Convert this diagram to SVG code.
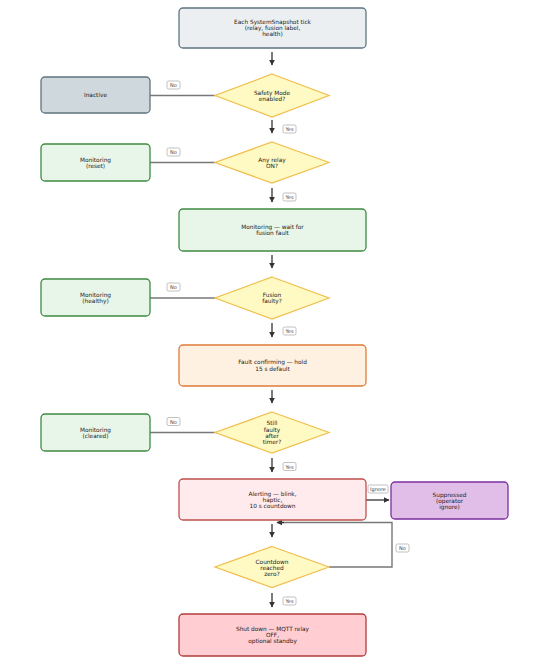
<svg xmlns="http://www.w3.org/2000/svg" width="545" height="664" viewBox="0 0 545 664">
<defs>
<marker id="ah" viewBox="0 0 10 10" refX="9" refY="5" markerWidth="6" markerHeight="6" orient="auto" markerUnits="userSpaceOnUse"><path d="M0,0 L10,5 L0,10 z" fill="#333"/></marker>
<style>
text{font-family:"DejaVu Sans",sans-serif;font-size:5.8px;fill:#222;text-anchor:middle;dominant-baseline:central}
.lbl text{font-size:5px;fill:#444}
.lb{fill:#fff;stroke:#999;stroke-width:0.6}
.v{stroke:#333;stroke-width:1.3;fill:none;marker-end:url(#ah)}
.s{stroke:#777;stroke-width:1.4;fill:none}
.d{fill:#fff9c4;stroke:#f0bf4c;stroke-width:1.2}
.g{fill:#e8f5e9;stroke:#3d8a41;stroke-width:1.3}
</style>
</defs>
<rect width="545" height="664" fill="#fff"/>
<g id="connectors">
<line class="v" x1="272" y1="52" x2="272" y2="65"/>
<line class="v" x1="272" y1="120" x2="272" y2="133"/>
<line class="v" x1="272" y1="188" x2="272" y2="202"/>
<line class="v" x1="272" y1="255" x2="272" y2="268"/>
<line class="v" x1="272" y1="323" x2="272" y2="337"/>
<line class="v" x1="272" y1="390" x2="272" y2="403"/>
<line class="v" x1="272" y1="458" x2="272" y2="472"/>
<line class="v" x1="272" y1="524" x2="272" y2="537"/>
<line class="v" x1="272" y1="593" x2="272" y2="607"/>
<line class="s" x1="150" y1="95.5" x2="215" y2="95.5"/>
<line class="s" x1="150" y1="162.5" x2="215" y2="162.5"/>
<line class="s" x1="150" y1="298" x2="215" y2="298"/>
<line class="s" x1="150" y1="432.5" x2="215" y2="432.5"/>
<line class="v" x1="366" y1="500" x2="389" y2="500"/>
<polyline class="s" points="329,567 392,567 392,522.5 282,522.5"/>
<line class="v" x1="284" y1="522.5" x2="277" y2="522.5"/>
<g class="lbl">
<rect class="lb" x="167" y="81" width="13" height="8" rx="1.5"/><text x="173.5" y="85">No</text>
<rect class="lb" x="167" y="148" width="13" height="8" rx="1.5"/><text x="173.5" y="152">No</text>
<rect class="lb" x="167" y="283" width="13" height="8" rx="1.5"/><text x="173.5" y="287">No</text>
<rect class="lb" x="167" y="417.5" width="13" height="8" rx="1.5"/><text x="173.5" y="421.5">No</text>
<rect class="lb" x="396" y="544" width="13" height="8" rx="1.5"/><text x="402.5" y="548">No</text>
<rect class="lb" x="283" y="125" width="13" height="8" rx="1.5"/><text x="289.5" y="129">Yes</text>
<rect class="lb" x="283" y="193" width="13" height="8" rx="1.5"/><text x="289.5" y="197">Yes</text>
<rect class="lb" x="283" y="327" width="13" height="8" rx="1.5"/><text x="289.5" y="331">Yes</text>
<rect class="lb" x="283" y="462.5" width="13" height="8" rx="1.5"/><text x="289.5" y="466.5">Yes</text>
<rect class="lb" x="283" y="597" width="13" height="8" rx="1.5"/><text x="289.5" y="601">Yes</text>
<rect class="lb" x="368" y="485" width="20" height="8" rx="1.5"/><text x="378" y="489">Ignore</text>
</g>
</g>
<g id="tick"><rect x="179" y="8" width="187" height="40" rx="4" fill="#eceff1" stroke="#5f7480" stroke-width="1.3"/><text x="272.5" y="21.7">Each SystemSnapshot tick</text><text x="272.5" y="27.7">(relay, fusion label,</text><text x="272.5" y="33.7">health)</text></g>
<g id="safety"><polygon class="d" points="272,74 329,95.5 272,117 215,95.5"/><text x="272" y="92.5">Safety Mode</text><text x="272" y="98.8">enabled?</text></g>
<g id="inactive"><rect x="41" y="77" width="109" height="36" rx="4" fill="#cfd8dc" stroke="#5f7480" stroke-width="1.3"/><text x="95.5" y="95">Inactive</text></g>
<g id="anyrelay"><polygon class="d" points="272,142 329,162.5 272,183 215,162.5"/><text x="272" y="159.5">Any relay</text><text x="272" y="165.8">ON?</text></g>
<g id="monreset"><rect class="g" x="41" y="144" width="109" height="37" rx="4"/><text x="95.5" y="159.5">Monitoring</text><text x="95.5" y="165.5">(reset)</text></g>
<g id="monwait"><rect class="g" x="179" y="209" width="187" height="42" rx="4"/><text x="272.5" y="227">Monitoring — wait for</text><text x="272.5" y="233.3">fusion fault</text></g>
<g id="fusion"><polygon class="d" points="272,277 329,298 272,319 215,298"/><text x="272" y="294.7">Fusion</text><text x="272" y="301">faulty?</text></g>
<g id="monhealthy"><rect class="g" x="41" y="279" width="109" height="37" rx="4"/><text x="95.5" y="294.7">Monitoring</text><text x="95.5" y="300.7">(healthy)</text></g>
<g id="fault"><rect x="179" y="345" width="187" height="41" rx="4" fill="#fff1e1" stroke="#e07b39" stroke-width="1.3"/><text x="272.5" y="362.3">Fault confirming — hold</text><text x="272.5" y="368.6">15 s default</text></g>
<g id="still"><polygon class="d" points="272,412 329,432.5 272,453 215,432.5"/><text x="272" y="423.3">Still</text><text x="272" y="429.5">faulty</text><text x="272" y="435.7">after</text><text x="272" y="441.9">timer?</text></g>
<g id="moncleared"><rect class="g" x="41" y="414" width="109" height="37" rx="4"/><text x="95.5" y="429.7">Monitoring</text><text x="95.5" y="435.7">(cleared)</text></g>
<g id="alerting"><rect x="179" y="479" width="187" height="41" rx="4" fill="#ffebee" stroke="#c0504d" stroke-width="1.3"/><text x="272.5" y="493.7">Alerting — blink,</text><text x="272.5" y="499.9">haptic,</text><text x="272.5" y="506.1">10 s countdown</text></g>
<g id="suppressed"><rect x="391" y="482" width="117" height="37" rx="4" fill="#e1bee7" stroke="#7b2fa0" stroke-width="1.3"/><text x="449.5" y="494.5">Suppressed</text><text x="449.5" y="500.5">(operator</text><text x="449.5" y="506.5">ignore)</text></g>
<g id="countdown"><polygon class="d" points="272,546.5 329,567 272,587.5 215,567"/><text x="272" y="561.5">Countdown</text><text x="272" y="567.5">reached</text><text x="272" y="573.5">zero?</text></g>
<g id="shutdown"><rect x="179" y="614" width="187" height="42" rx="4" fill="#ffcdd2" stroke="#b23c3c" stroke-width="1.3"/><text x="272.5" y="628.7">Shut down — MQTT relay</text><text x="272.5" y="634.9">OFF,</text><text x="272.5" y="641.1">optional standby</text></g>
</svg>
